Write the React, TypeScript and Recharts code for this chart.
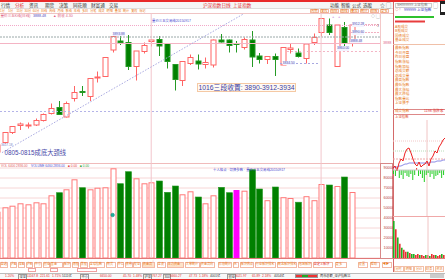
import React from 'react';
import {
  ComposedChart, BarChart, LineChart, Bar, Line, XAxis, YAxis,
  ReferenceLine, ReferenceDot, CartesianGrid, Cell,
} from 'recharts';

const FONT = '"Liberation Sans", "Noto Sans CJK SC", sans-serif';

// ---------- daily candles (index 0 is cut by the left edge) ----------
const openPrices = [3660, 3679, 3699, 3713, 3712, 3714, 3723, 3737, 3749, 3730, 3767, 3781, 3771, 3808, 3811, 3864, 3882, 3879, 3831, 3861, 3881, 3885, 3877, 3835, 3803, 3837, 3842, 3835, 3834, 3884, 3884, 3877, 3869, 3884, 3852, 3845, 3851, 3834, 3865, 3858, 3847, 3879, 3899, 3914, 3831, 3909, 3880];
const highPrices = [3676, 3700, 3711, 3719, 3719, 3727, 3737, 3757, 3762, 3761, 3792, 3792, 3807, 3821, 3850, 3894, 3894, 3894, 3862, 3879, 3886, 3892, 3878, 3836, 3841, 3855, 3855, 3849, 3885, 3896, 3885, 3882, 3889, 3902, 3858, 3852, 3857, 3869, 3877, 3867, 3877, 3897, 3928, 3927, 3914, 3920, 3915];
const lowPrices = [3656, 3677, 3696, 3704, 3707, 3712, 3721, 3735, 3734, 3729, 3761, 3772, 3762, 3799, 3810, 3859, 3874, 3824, 3803, 3857, 3871, 3852, 3827, 3783, 3792, 3834, 3825, 3827, 3829, 3879, 3859, 3859, 3865, 3830, 3837, 3836, 3812, 3834, 3857, 3849, 3837, 3874, 3891, 3894, 3830, 3870, 3871];
const closePrices = [3674, 3699, 3711, 3716, 3714, 3723, 3735, 3747, 3735, 3757, 3779, 3779, 3807, 3810, 3849, 3891, 3879, 3831, 3862, 3873, 3884, 3872, 3841, 3805, 3841, 3849, 3836, 3839, 3884, 3880, 3873, 3875, 3885, 3850, 3845, 3851, 3845, 3869, 3868, 3851, 3876, 3889, 3927, 3899, 3914, 3877, 3914];
const volumes = [46300, 50700, 52300, 54700, 53700, 55700, 54700, 62700, 65300, 68700, 78700, 70300, 68700, 70300, 70700, 89700, 74300, 86300, 79700, 74700, 75700, 77000, 65700, 72000, 63700, 66700, 61000, 54700, 62700, 70700, 65300, 68000, 67300, 88300, 69000, 57800, 71000, 60800, 60000, 55800, 61800, 57800, 74000, 73000, 72000, 81000, 66000];
const highlightDay = 31;
const markerDay = 15;
const markerValue = 43000;
const volumeTicks = [10000, 20000, 30000, 40000, 50000, 60000, 70000, 80000, 90000];

// ---------- intraday (right panel) ----------
const intradayPrice = [3848, 3850, 3845, 3853, 3857, 3855, 3863, 3867, 3868, 3863, 3857, 3852, 3850, 3854, 3849, 3851, 3852, 3855, 3850, 3857, 3860, 3865, 3863, 3869, 3872, 3876, 3878];
const intradayAvg = [3848, 3849, 3849, 3850, 3850, 3851, 3852, 3852, 3853, 3853, 3853, 3853, 3853, 3853, 3853, 3853, 3853, 3853, 3853, 3854, 3854, 3854, 3855, 3855, 3855, 3856, 3856];
const intradayFlow = [-4, -6, 3, -8, -5, -9, -3, -6, -7, -4, -10, -5, 2, -6, -4, -8, -12, -5, -3, -7, -4, -9, -6, -5, -3, -8, -5];
const intradayVol = [36, 28, 20, 14, 10, 8, 6, 6, 5, 4, 4, 3, 4, 3, 3, 2, 3, 3, 2, 4, 3, 3, 2, 3, 4, 3];
const intradayVolUp = [0, 1, 0, 1, 0, 1, 1, 0, 1, 0, 0, 1, 1, 0, 1, 1, 0, 1, 0, 1, 1, 0, 1, 1, 0, 1];
const ratioBars = [39, 30];

const UP = '#ff6464';
const DOWN = '#008000';
const DOWN_EDGE = '#249a24';
const X_MIN = 0.417;
const X_MAX = 49.63;

const candleData = openPrices.map((o, i) => ({
  i,
  range: [lowPrices[i], highPrices[i]],
  open: o,
  high: highPrices[i],
  low: lowPrices[i],
  close: closePrices[i],
  vol: volumes[i],
  up: closePrices[i] >= o,
}));

const intradayData = intradayPrice.map((p, k) => ({ k, p, a: intradayAvg[k], f: intradayFlow[k] }));
const intradayVolData = intradayVol.map((v, k) => ({ k, v, up: intradayVolUp[k] }));

const Candle = (props: any) => {
  const { x, y, width, height, payload } = props;
  if (x == null || !payload) return null;
  const { open, close, high, low } = payload;
  const k = height / Math.max(high - low, 0.0001);
  const cx = Math.round(x + width / 2) + 0.5;
  const top = y + (high - Math.max(open, close)) * k;
  const bot = y + (high - Math.min(open, close)) * k;
  const yLow = y + height;
  if (close >= open) {
    return (
      <g>
        <line x1={cx} x2={cx} y1={y} y2={top} stroke={UP} strokeWidth={1} />
        <line x1={cx} x2={cx} y1={bot} y2={yLow} stroke={UP} strokeWidth={1} />
        <rect x={cx - 2.5} y={top} width={5} height={Math.max(bot - top, 1)} fill="#fff" stroke={UP} strokeWidth={1} />
      </g>
    );
  }
  return (
    <g>
      <line x1={cx} x2={cx} y1={y} y2={yLow} stroke={DOWN_EDGE} strokeWidth={1} />
      <rect x={cx - 2.5} y={top} width={5} height={Math.max(bot - top, 1)} fill={DOWN} stroke={DOWN_EDGE} strokeWidth={1} />
    </g>
  );
};

const VolBar = (props: any) => {
  const { x, y, width, height, payload } = props;
  if (x == null || !payload) return null;
  const cx = Math.round(x + width / 2) + 0.5;
  if (payload.i === highlightDay) {
    return <rect x={cx - 3} y={y} width={6} height={height} fill="#ff00ff" />;
  }
  if (payload.up) {
    return <rect x={cx - 2.5} y={y + 0.5} width={5} height={Math.max(height - 0.5, 0)} fill="#fff" stroke="#ff7878" strokeWidth={1} />;
  }
  return <rect x={cx - 3} y={y} width={6} height={height} fill={DOWN} stroke={DOWN_EDGE} strokeWidth={0.6} />;
};

const T = ({ x, y, s = 4.5, c = '#333', children, style }: any) => (
  <div style={{ position: 'absolute', left: x, top: y, fontSize: s, lineHeight: `${s + 1}px`, color: c, whiteSpace: 'nowrap', fontFamily: FONT, ...style }}>
    {children}
  </div>
);

const Box = ({ x, y, w, h, style }: any) => (
  <div style={{ position: 'absolute', left: x, top: y, width: w, height: h, boxSizing: 'border-box', ...style }} />
);

const menuLeft = [
  { t: '行情', x: 1, c: '#333' }, { t: '分析', x: 15, c: '#e03030' }, { t: '资讯', x: 29, c: '#333' },
  { t: '期货', x: 45, c: '#333' }, { t: '决策', x: 59, c: '#333' }, { t: '同花顺', x: 73, c: '#333' },
  { t: '财富通', x: 91, c: '#333' }, { t: '交易', x: 109, c: '#333' },
];
const menuRight = [{ t: '功能', x: 330 }, { t: '智能', x: 341 }, { t: '公式', x: 352 }, { t: '选股', x: 363 }];
const periodTabs = ['1分', '5分', '15分', '30分', '60分', '日线', '周线', '月线', '季线', '年线', '多日', '分笔', '成交', '明细', '叠加', '统计', '复权', '标记'];
const toolTabs = ['周期', '复权', '指标', '画线', '叠加', '统计', '模板', '更多'];
const sideLabels1 = ['A股成交', 'B股成交', '国债成交', '基金成交'];
const sideLabels2 = ['最新指数', '今日开盘', '昨日收盘', '指数涨幅', '指数振幅', '总成交额', '总成交量', '最高指数', '最低指数', '最大涨幅', '最大跌幅', '指数量比', '上证换手'];
const bottomTabs = [
  { t: '自选', x: 0, w: 8 }, { t: '沪A', x: 10, w: 7 }, { t: '深A', x: 18, w: 7 }, { t: '沪B', x: 26, w: 7 },
  { t: '中小', x: 34, w: 8 }, { t: '创业', x: 43, w: 7 }, { t: '基金', x: 50, w: 13 }, { t: '板块', x: 63, w: 8 },
  { t: '港股', x: 72, w: 7 }, { t: '美股', x: 80, w: 8 }, { t: '全球指数', x: 89, w: 16 }, { t: '期货', x: 106, w: 10 },
  { t: '外汇', x: 117, w: 7 }, { t: '债券', x: 125, w: 8 }, { t: '权证', x: 133, w: 8 }, { t: '资金流', x: 142, w: 13, hl: true },
  { t: '龙虎', x: 157, w: 9 }, { t: '主力资金', x: 167, w: 17, hl: true }, { t: '大单统计', x: 185, w: 15 },
  { t: '资金流向', x: 200, w: 15 }, { t: '阶段统计', x: 218, w: 14 }, { t: '无', x: 233, w: 6 }, { t: '板块热点', x: 240, w: 14 },
  { t: '行业板块排名', x: 255, w: 21 }, { t: '概念板块排名', x: 277, w: 20 }, { t: '地域板块', x: 298, w: 14 },
  { t: '自定义板块', x: 313, w: 20, red: true }, { t: '更多', x: 335, w: 12 }, { t: '设置', x: 358, w: 10 }, { t: '帮助', x: 370, w: 10 },
  { t: '◀▶', x: 382, w: 10 },
];
const sideBottom = ['分时', '明细', '分价', '财务', '资讯'];
const statusItems = [
  { t: '1.20%', x: 5, c: '#e03030' }, { t: '深证', x: 18, c: '#333', box: true }, { t: '11167.8', x: 27, c: '#e03030' },
  { t: '221.61', x: 40, c: '#e03030' }, { t: '1.71%', x: 52, c: '#e03030' }, { t: '5111亿', x: 62, c: '#333' },
  { t: '中小', x: 80, c: '#333', box: true }, { t: '6650.00', x: 100, c: '#e03030' }, { t: '45.70', x: 123, c: '#e03030' },
  { t: '1.48%', x: 133, c: '#e03030' }, { t: '沪深', x: 143, c: '#333', box: true }, { t: '767.27', x: 152, c: '#e03030' },
  { t: '300', x: 163, c: '#333', box: true }, { t: '6660.27', x: 170, c: '#e03030' }, { t: '47.73', x: 189, c: '#e03030' },
  { t: '1.18%', x: 199, c: '#e03030' }, { t: '4001亿', x: 210, c: '#333' }, { t: '创业', x: 227, c: '#333', box: true },
  { t: '3021.97', x: 235, c: '#e03030' }, { t: '65.89', x: 252, c: '#e03030' }, { t: '2.18%', x: 262, c: '#e03030' },
  { t: '4054亿', x: 274, c: '#333' }, { t: '两市总额_深沪指数11', x: 320, c: '#333' },
];

export default function App() {
  return (
    <div style={{ position: 'absolute', left: 0, top: 0, width: 445, height: 280, overflow: 'hidden', background: '#fff', fontFamily: FONT }}>
      {/* top bars */}
      <Box x={0} y={0} w={445} h={2} style={{ background: '#e82a2a' }} />
      <Box x={0} y={2} w={393} h={6.5} style={{ background: '#f6f6f6', borderBottom: '1px solid #ddd' }} />
      {menuLeft.map((m) => (
        <T key={m.t} x={m.x} y={2.5} s={4.6} c={m.c}>{m.t}</T>
      ))}
      <T x={203} y={2.5} s={4.6} c="#e03030">沪深指数日线</T>
      <T x={233} y={2.5} s={4.6} c="#e03030">上证指数</T>
      {menuRight.map((m) => (
        <T key={m.t} x={m.x} y={2.5} s={4.6} c="#333">{m.t}</T>
      ))}
      <T x={380} y={2} s={5} c="#555">☆</T>
      <T x={386} y={2} s={5} c="#555">▢</T>
      <Box x={395} y={2.5} w={37} h={5.5} style={{ border: '1px solid #ccc', background: '#fafafa' }} />
      <T x={397} y={3.3} s={3.4} c="#777">SH999999 上证指数</T>
      <T x={433} y={2} s={5} c="#555">▢</T>
      <Box x={440} y={1} w={5} h={14} style={{ background: '#222' }} />
      <Box x={441} y={4} w={4} h={8} style={{ background: '#fff' }} />

      {/* period tabs */}
      {periodTabs.map((t, k) => (
        <T key={t + k} x={k * 8.2} y={8.8} s={3.1} c="#e87a20">{t}</T>
      ))}
      {toolTabs.map((t, k) => (
        <React.Fragment key={t}>
          <Box x={310 + k * 10} y={8.5} w={9} h={4.5} style={{ border: '1px solid #f2b8a0' }} />
          <T x={311 + k * 10} y={8.8} s={3.3} c="#e87a20">{t}</T>
        </React.Fragment>
      ))}

      {/* main panel frame */}
      <Box x={0} y={12.5} w={393} h={0} style={{ borderTop: '1px solid #f0c4c4' }} />
      <Box x={380} y={13} w={0} h={150} style={{ borderLeft: '1px solid #f4c8c8' }} />
      <T x={0.5} y={13.8} s={3.6} c="#e06080">量价三五K线(日线)</T>
      <T x={33} y={13.8} s={3.6} c="#5050c0">3888.48</T>
      <T x={53} y={13.8} s={3.6} c="#e06080">▲ 前收 4.30</T>
      <T x={152} y={18.5} s={3.4} c="#4a4ad0">量价三五交易线20150917</T>
      <T x={371} y={13.5} s={4} c="#777">◇ ▢</T>
      <T x={332} y={13.8} s={4} c="#c060d0">+</T>
      <T x={338} y={13.8} s={4} c="#c060d0">+</T>

      <div style={{ position: 'absolute', left: 0, top: 13 }}>
        <ComposedChart width={380} height={150} data={candleData} margin={{ top: 0, right: 0, bottom: 0, left: 0 }}>
          <XAxis type="number" dataKey="i" domain={[X_MIN, X_MAX]} hide allowDataOverflow />
          <YAxis type="number" domain={[3638, 3938]} hide allowDataOverflow />
          <ReferenceLine y={3913} stroke="#f2a8c8" strokeDasharray="1 1" />
          <ReferenceLine y={3890} stroke="#9aa8a8" strokeDasharray="2 1" />
          <ReferenceLine y={3877} stroke="#f4b4c4" />
          <ReferenceLine y={3741} stroke="#b4b4e8" strokeDasharray="2 2" />
          <ReferenceLine x={20} stroke="#f2c6cc" />
          <ReferenceLine x={42} stroke="#f2c6cc" />
          <ReferenceLine segment={[{ x: 37.58, y: 3861 }, { x: X_MAX, y: 3861 }]} stroke="#f4b4c4" strokeDasharray="2 2" />
          <ReferenceLine segment={[{ x: 36.68, y: 3837 }, { x: 41.86, y: 3837 }]} stroke="#a8a8e0" strokeDasharray="2 2" />
          <ReferenceLine segment={[{ x: 45.74, y: 3915 }, { x: X_MAX, y: 3915 }]} stroke="#f0b0c0" strokeDasharray="2 1" />
          <ReferenceLine segment={[{ x: 45.74, y: 3899 }, { x: X_MAX, y: 3899 }]} stroke="#f0b0c0" strokeDasharray="2 1" />
          <ReferenceLine segment={[{ x: 0.676, y: 3658.8 }, { x: 32.0, y: 3936.6 }]} stroke="#aaaae2" strokeDasharray="1.5 1.5" />
          <Bar dataKey="range" barSize={6} shape={<Candle />} isAnimationActive={false} />
        </ComposedChart>
      </div>

      {/* main annotations */}
      <T x={383} y={40.5} s={3.8} c="#e07090">3888</T>
      <T x={112.5} y={32} s={3.4} c="#6060c0" style={{ background: '#eef' }}>3893.88</T>
      <T x={282.5} y={60.5} s={3.4} c="#5050b0" style={{ background: '#f4f4ff' }}>3834.50</T>
      <T x={337} y={46.3} s={3.4} c="#5050b0" style={{ background: '#f4f4ff' }}>3860.00</T>
      <T x={350} y={39} s={3.4} c="#5050b0" style={{ background: '#f4f4ff' }}>3888.48</T>
      <T x={352} y={30.3} s={3.4} c="#5050b0" style={{ background: '#f4f4ff' }}>3890.60</T>
      <T x={352} y={22.3} s={3.4} c="#5050b0" style={{ background: '#f4f4ff' }}>3912.28</T>
      <T x={377} y={24} s={3.4} c="#777">1</T>
      <div style={{ position: 'absolute', left: 196.5, top: 82.5, border: '1px solid #f5c9a4', background: '#fffaf4', padding: '0 1px', fontSize: 6.8, lineHeight: '7.8px', color: '#3c3ca0', whiteSpace: 'nowrap', fontFamily: FONT }}>
        1016三段收置: 3890-3912-3934
      </div>
      <T x={4.5} y={149} s={6.3} c="#4848a8" style={{ lineHeight: '8px' }}>0805-0815成底大颈线</T>
      <T x={1} y={143} s={3.2} c="#8080c8">3657.18</T>

      {/* volume panel */}
      <Box x={0} y={162.5} w={393} h={0} style={{ borderTop: '1px solid #e8a0a0' }} />
      <Box x={0} y={258} w={393} h={0} style={{ borderTop: '1px solid #e07878' }} />
      <Box x={380} y={163} w={13} h={95.5} style={{ border: '1px solid #d88888' }} />
      <div style={{ position: 'absolute', left: 0, top: 163 }}>
        <ComposedChart width={393} height={95} data={candleData} margin={{ top: 0, right: 0, bottom: 0, left: 0 }}>
          <CartesianGrid vertical={false} stroke="#f7d6d6" />
          <XAxis type="number" dataKey="i" domain={[X_MIN, X_MAX]} hide allowDataOverflow />
          <YAxis
            type="number"
            orientation="right"
            width={13}
            domain={[0, 95000]}
            ticks={volumeTicks}
            axisLine={false}
            tickLine={false}
            tickSize={0}
            interval={0}
            allowDataOverflow
            tick={(p: any) => (
              <text x={p.x + 1.5} y={p.y + 1.4} fontSize={3.9} fill="#b84040" fontFamily={FONT}>{p.payload.value}</text>
            )}
          />
          <ReferenceLine x={20} stroke="#f2c6cc" />
          <ReferenceLine x={42} stroke="#f2c6cc" />
          <Bar dataKey="vol" barSize={6} shape={<VolBar />} isAnimationActive={false} />
          <ReferenceDot x={markerDay} y={markerValue} r={1.8} fill="#1fb0a0" stroke="#108070" strokeWidth={0.5} />
        </ComposedChart>
      </div>
      <T x={1} y={163.5} s={3.2} c="#e06060">VOL 6400 2836.00</T>
      <T x={31} y={163.5} s={3.2} c="#5050d0">VOLUME 6460 2836.00</T>
      <T x={68} y={163.5} s={3.2} c="#e04040">■ 0.00</T>
      <T x={80} y={163.5} s={3.2} c="#30a030">■ 0.00</T>
      <T x={213} y={168.3} s={3.4} c="#4a4ad0">十人格点 · 切换参数 · 量价三五交易线20150917</T>
      <T x={152} y={257.5} s={4} c="#e03030">↓</T>

      {/* right side panel */}
      <Box x={393} y={2} w={0} h={270} style={{ borderLeft: '1px solid #d46a6a' }} />
      <T x={395} y={8.3} s={3.6} c="#e03030">◇ !</T>
      <T x={404} y={8.3} s={3.6} c="#3030c0">999999 上证指数</T>
      <div style={{ position: 'absolute', left: 395, top: 14.5 }}>
        <BarChart width={40} height={9} layout="vertical" data={ratioBars.map((v, k) => ({ k, v }))} margin={{ top: 0, right: 0, bottom: 0, left: 0 }} barCategoryGap={1}>
          <XAxis type="number" domain={[0, 40]} hide />
          <YAxis type="category" dataKey="k" hide />
          <Bar dataKey="v" barSize={2} isAnimationActive={false}>
            {ratioBars.map((_, k) => (
              <Cell key={k} fill={k === 0 ? '#2ec22e' : '#e83c3c'} />
            ))}
          </Bar>
        </BarChart>
      </div>
      {sideLabels1.map((t, k) => (
        <T key={t} x={395} y={24.6 + k * 4.5} s={3.6} c="#e87a20">{t}</T>
      ))}
      <Box x={393} y={43.5} w={52} h={0} style={{ borderTop: '1px solid #f0c0a8' }} />
      {sideLabels2.map((t, k) => (
        <T key={t} x={395} y={46.2 + k * 4.6} s={3.6} c="#e87a20">{t}</T>
      ))}
      <Box x={393} y={108.5} w={52} h={0} style={{ borderTop: '1px solid #d88' }} />
      <T x={395} y={109.2} s={3.6} c="#e87a20">成交指数</T>
      <T x={424} y={109.2} s={3.6} c="#e03030">1198 涨跌家</T>
      <Box x={393} y={114} w={52} h={0} style={{ borderTop: '1px solid #d88' }} />
      <T x={395} y={114.6} s={3.4} c="#e05030">上证指数</T>

      <div style={{ position: 'absolute', left: 393, top: 120 }}>
        <LineChart width={52} height={96} data={intradayData} margin={{ top: 0, right: 0, bottom: 0, left: 0 }}>
          <XAxis dataKey="k" hide />
          <YAxis domain={[3800, 3896]} hide />
          <ReferenceLine y={3875} stroke="#f2c8c8" strokeDasharray="1 1" />
          <ReferenceLine y={3865} stroke="#b8dcb8" strokeDasharray="1 1" />
          <ReferenceLine y={3857} stroke="#f0a8a8" strokeDasharray="2 1" />
          <ReferenceLine x={17} stroke="#f0c4c4" />
          <Line dataKey="a" stroke="#7070e0" strokeWidth={0.8} dot={false} isAnimationActive={false} />
          <Line dataKey="p" stroke="#ee2222" strokeWidth={1} dot={false} isAnimationActive={false} />
        </LineChart>
      </div>
      <div style={{ position: 'absolute', left: 393, top: 160 }}>
        <BarChart width={52} height={25} data={intradayData} margin={{ top: 0, right: 0, bottom: 0, left: 0 }} barCategoryGap={0}>
          <XAxis dataKey="k" hide />
          <YAxis domain={[-15, 10]} hide />
          <ReferenceLine y={0} stroke="#ccc" />
          <Bar dataKey="f" barSize={1} isAnimationActive={false}>
            {intradayFlow.map((v, k) => (
              <Cell key={k} fill={v < 0 ? '#22cc22' : '#ee3333'} />
            ))}
          </Bar>
        </BarChart>
      </div>
      <Box x={393} y={216} w={52} h={0} style={{ borderTop: '1px solid #f0a8a8' }} />
      <div style={{ position: 'absolute', left: 393, top: 217 }}>
        <BarChart width={52} height={41} data={intradayVolData} margin={{ top: 0, right: 0, bottom: 0, left: 0 }} barCategoryGap={0}>
          <XAxis dataKey="k" hide />
          <YAxis domain={[0, 40]} hide />
          <ReferenceLine x={17} stroke="#f0c4c4" />
          <Bar dataKey="v" barSize={1.6} isAnimationActive={false}>
            {intradayVolData.map((d, k) => (
              <Cell key={k} fill={d.up ? '#e83030' : '#20b020'} />
            ))}
          </Bar>
        </BarChart>
      </div>
      <Box x={393} y={258} w={52} h={0} style={{ borderTop: '1px solid #e07878' }} />

      {/* bottom tab row */}
      {bottomTabs.map((b) => (
        <React.Fragment key={b.t + b.x}>
          <Box x={b.x} y={261.5} w={b.w} h={6} style={{ border: '1px solid #f2b8a4', background: b.hl ? '#fde2c8' : '#fff' }} />
          <T x={b.x + 0.8} y={262.4} s={3.1} c={b.red ? '#e03030' : '#e87a20'}>{b.t}</T>
        </React.Fragment>
      ))}
      <Box x={50} y={268} w={8} h={4} style={{ border: '1px solid #f0a0a0' }} />
      <Box x={28} y={268} w={8} h={4} style={{ border: '1px solid #f0a0a0' }} />
      <Box x={77} y={268} w={20} h={4} style={{ border: '1px solid #f0a0a0' }} />
      {sideBottom.map((t, k) => (
        <React.Fragment key={t}>
          <Box x={394 + k * 10.2} y={266} w={9.5} h={6} style={{ border: '1px solid #f2c0a8' }} />
          <T x={395.5 + k * 10.2} y={266.9} s={3.1} c="#e87a20">{t}</T>
        </React.Fragment>
      ))}

      {/* status bar */}
      <Box x={0} y={272.5} w={445} h={6} style={{ borderTop: '1px solid #bbb', background: '#f8f8f8' }} />
      {statusItems.map((s) => (
        <T key={s.t + s.x} x={s.x} y={273.6} s={3.2} c={s.c} style={s.box ? { border: '0.5px solid #999', padding: '0 0.5px' } : undefined}>{s.t}</T>
      ))}
      <Box x={295} y={274} w={23} h={4} style={{ border: '0.5px solid #999', background: 'linear-gradient(90deg,#e33 0 30%,#2a2 30% 55%,#e33 55% 100%)' }} />
      <Box x={430} y={273.5} w={14} h={4.5} style={{ background: '#ccc' }} />
      <Box x={0} y={278.5} w={445} h={1.5} style={{ background: '#e82a2a' }} />
    </div>
  );
}
